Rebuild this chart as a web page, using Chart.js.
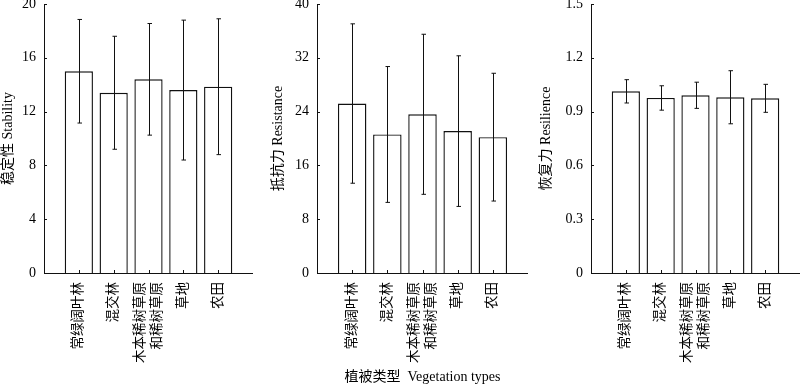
<!DOCTYPE html>
<html>
<head>
<meta charset="utf-8">
<script src="https://cdn.jsdelivr.net/npm/chart.js@4/dist/chart.umd.min.js"></script>
<style>
  html, body { margin: 0; padding: 0; background: #fff; }
  #wrap { position: relative; width: 800px; height: 386px; overflow: hidden; }
  #wrap canvas { position: absolute; top: 0; }
</style>
</head>
<body>
<div id="wrap">
  <canvas id="c1" width="253" height="386" style="left:0px"></canvas>
  <canvas id="c2" width="263" height="386" style="left:265px"></canvas>
  <canvas id="c3" width="265" height="386" style="left:535px"></canvas>
</div>
<script>
// vegetation types (multi-column labels are separate lines)
const categories = [["常绿阔叶林"], ["混交林"], ["木本稀树草原", "和稀树草原"], ["草地"], ["农田"]];

const stabilityMean = [15.0, 13.4, 14.4, 13.6, 13.85];
const stabilitySd   = [3.85, 4.2, 4.15, 5.2, 5.05];
const stabilityTicks = [0, 4, 8, 12, 16, 20];

const resistanceMean = [25.2, 20.6, 23.6, 21.1, 20.2];
const resistanceSd   = [11.85, 10.1, 11.9, 11.2, 9.5];
const resistanceTicks = [0, 8, 16, 24, 32, 40];

const resilienceMean = [1.013, 0.976, 0.991, 0.980, 0.974];
const resilienceSd   = [0.065, 0.068, 0.073, 0.148, 0.078];
const resilienceTicks = [0, 0.3, 0.6, 0.9, 1.2, 1.5];

const INK = "#111";
const FONT = "'Liberation Serif', 'Noto Sans CJK SC', serif";

// errors bars, inward tick marks, vertical category labels
const decor = {
  id: "decor",
  afterDatasetsDraw(chart) {
    const { ctx, scales: { x, y } } = chart;
    const ds = chart.data.datasets[0];
    ctx.save();
    ctx.strokeStyle = INK;
    ctx.lineWidth = 1;
    ctx.beginPath();
    ds.data.forEach((v, i) => {
      if (v == null) return;
      const e = ds.errs[i];
      const px = Math.round(x.getPixelForValue(i)) + 0.5;
      const t = y.getPixelForValue(v + e), b = y.getPixelForValue(v - e);
      ctx.moveTo(px, t); ctx.lineTo(px, b);
      ctx.moveTo(px - 2, t); ctx.lineTo(px + 2.5, t);
      ctx.moveTo(px - 2, b); ctx.lineTo(px + 2.5, b);
    });
    // inward ticks
    y.ticks.forEach(t => {
      const py = Math.round(y.getPixelForValue(t.value)) + 0.5;
      ctx.moveTo(x.left, py); ctx.lineTo(x.left + 3, py);
    });
    ds.data.forEach((v, i) => {
      if (v == null) return;
      const px = Math.round(x.getPixelForValue(i)) + 0.5;
      ctx.moveTo(px, y.bottom); ctx.lineTo(px, y.bottom - 3);
    });
    ctx.stroke();
    ctx.restore();
  },
  afterDraw(chart) {
    const { ctx, scales: { x } } = chart;
    ctx.save();
    ctx.fillStyle = "#000";
    ctx.font = "13.5px " + FONT;
    ctx.textAlign = "right";
    ctx.textBaseline = "middle";
    categories.forEach((lines, k) => {
      const px = x.getPixelForValue(k + 1);
      ctx.save();
      ctx.translate(px, x.top + 9);
      ctx.rotate(-Math.PI / 2);
      lines.forEach((s, j) => ctx.fillText(s, 0, (j - (lines.length - 1) / 2) * 17));
      ctx.restore();
    });
    ctx.restore();
  }
};

function makePanel(id, means, errs, tickVals, yTitle, yWidth, titlePad, xTitle) {
  const fmt = tickVals.some(v => v % 1 !== 0) ? (v => v === 0 ? "0" : v.toFixed(1)) : (v => String(v));
  return new Chart(document.getElementById(id), {
    type: "bar",
    data: {
      labels: ["", ...categories.map(c => c.join("")), ""],
      datasets: [{
        data: [null, ...means, null],
        errs: [null, ...errs, null],
        backgroundColor: "#fff",
        borderColor: INK,
        borderWidth: 1.4,
        barPercentage: 0.81,
        categoryPercentage: 1
      }]
    },
    options: {
      responsive: false,
      animation: false,
      layout: { padding: { top: 4, right: 0, bottom: 0, left: 0 } },
      plugins: { legend: { display: false }, tooltip: { enabled: false } },
      scales: {
        x: {
          type: "category",
          offset: false,
          grid: { display: false, drawTicks: false, offset: false },
          border: { display: true, color: INK, width: 1 },
          ticks: { display: false },
          title: {
            display: !!xTitle, text: xTitle || "", color: "#000",
            font: { family: FONT, size: 14 }, padding: 0
          },
          afterFit: s => { s.height = 113; s.paddingLeft = 0; s.paddingRight = 0; }
        },
        y: {
          min: tickVals[0],
          max: tickVals[tickVals.length - 1],
          grid: { display: false, drawTicks: false },
          border: { display: true, color: INK, width: 1 },
          ticks: {
            color: "#000", padding: 8,
            font: { family: FONT, size: 14 },
            callback: v => fmt(v)
          },
          afterBuildTicks: s => { s.ticks = tickVals.map(v => ({ value: v })); },
          title: {
            display: true, text: yTitle, color: "#000",
            font: { family: FONT, size: 14 }, padding: { top: titlePad, bottom: 0 }
          },
          afterFit: s => { s.width = yWidth; s.paddingTop = 0; s.paddingBottom = 0; }
        }
      }
    },
    plugins: [decor]
  });
}

makePanel("c1", stabilityMean, stabilitySd, stabilityTicks, "稳定性 Stability", 44, 0);
makePanel("c2", resistanceMean, resistanceSd, resistanceTicks, "抵抗力 Resistance", 52, 5, "植被类型  Vegetation types");
makePanel("c3", resilienceMean, resilienceSd, resilienceTicks, "恢复力 Resilience", 56, 3);
</script>
</body>
</html>
